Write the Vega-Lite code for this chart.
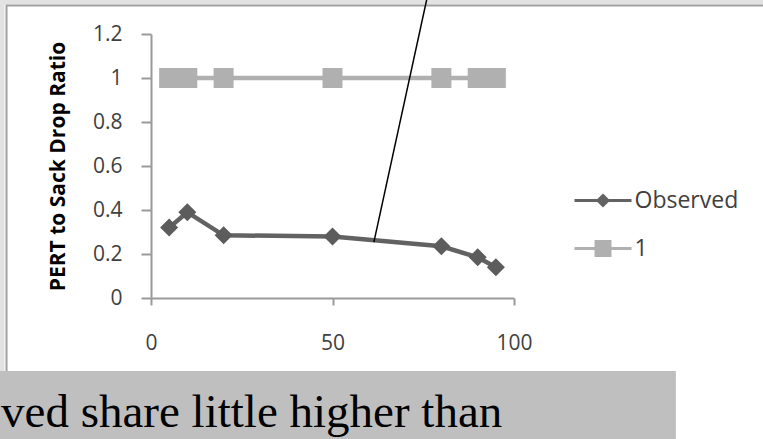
{
  "$schema": "https://vega.github.io/schema/vega-lite/v6.json",
  "width": 363,
  "height": 264,
  "autosize": {"type": "none"},
  "padding": {"left": 151, "top": 34, "right": 249, "bottom": 141},
  "background": "white",
  "config": {
    "view": {"stroke": null},
    "axis": {
      "grid": false, "labelFlush": false, "labelOverlap": false,
      "domainColor": "#9a9a9a", "domainWidth": 2, "tickColor": "#9a9a9a", "tickWidth": 2,
      "labelFont": "Open Sans", "labelFontSize": 21, "labelColor": "#404040",
      "titleFont": "Open Sans", "titleFontWeight": "bold", "titleFontSize": 21, "titleColor": "black"
    }
  },
  "datasets": {
    "series": [
      {"x": 5, "y": 0.32, "series": "Observed"},
      {"x": 10, "y": 0.39, "series": "Observed"},
      {"x": 20, "y": 0.285, "series": "Observed"},
      {"x": 50, "y": 0.28, "series": "Observed"},
      {"x": 80, "y": 0.235, "series": "Observed"},
      {"x": 90, "y": 0.185, "series": "Observed"},
      {"x": 95, "y": 0.14, "series": "Observed"},
      {"x": 5, "y": 1, "series": "1"},
      {"x": 10, "y": 1, "series": "1"},
      {"x": 20, "y": 1, "series": "1"},
      {"x": 50, "y": 1, "series": "1"},
      {"x": 80, "y": 1, "series": "1"},
      {"x": 90, "y": 1, "series": "1"},
      {"x": 95, "y": 1, "series": "1"}
    ],
    "outer": [{"x": -41.6, "x2": 250, "y": 1.3545, "y2": -1}],
    "frame": [{"x": -39.8, "x2": 250, "y": 1.33, "y2": -1}],
    "caption": [{"x": -42, "x2": 144.6, "y": -0.332, "y2": -1, "tx": -41.3, "ty": -0.586, "text": "ved share little higher than"}],
    "callout": [{"x": 76.0, "y": 1.36, "x2": 61.4, "y2": 0.254}]
  },
  "layer": [
    {
      "data": {"name": "outer"},
      "mark": {"type": "rect", "fill": null, "stroke": "#e2e2e2", "strokeWidth": 9, "clip": false},
      "encoding": {
        "x": {
          "field": "x", "type": "quantitative", "scale": {"domain": [0, 100], "nice": false},
          "axis": {"title": null, "values": [0, 50, 100], "tickSize": 7, "labelPadding": 27}
        },
        "x2": {"field": "x2"},
        "y": {
          "field": "y", "type": "quantitative", "scale": {"domain": [0, 1.2], "nice": false},
          "axis": {"title": "PERT to Sack Drop Ratio", "values": [0, 0.2, 0.4, 0.6, 0.8, 1, 1.2], "format": "~g", "tickSize": 10, "labelPadding": 19, "titlePadding": 24}
        },
        "y2": {"field": "y2"}
      }
    },
    {
      "data": {"name": "frame"},
      "mark": {"type": "rect", "fill": null, "stroke": "#a0a0a0", "strokeWidth": 2, "clip": false},
      "encoding": {
        "x": {"field": "x", "type": "quantitative"},
        "x2": {"field": "x2"},
        "y": {"field": "y", "type": "quantitative"},
        "y2": {"field": "y2"}
      }
    },
    {
      "data": {"name": "caption"},
      "mark": {"type": "rect", "fill": "#bfbfbf", "clip": false},
      "encoding": {
        "x": {"field": "x", "type": "quantitative"},
        "x2": {"field": "x2"},
        "y": {"field": "y", "type": "quantitative"},
        "y2": {"field": "y2"}
      }
    },
    {
      "data": {"name": "caption"},
      "mark": {"type": "text", "font": "Liberation Serif", "fontSize": 47, "color": "black", "align": "left", "baseline": "alphabetic", "clip": false},
      "encoding": {
        "x": {"field": "tx", "type": "quantitative"},
        "y": {"field": "ty", "type": "quantitative"},
        "text": {"field": "text"}
      }
    },
    {
      "data": {"name": "series"},
      "mark": {"type": "line", "strokeWidth": 4.5, "clip": false},
      "encoding": {
        "x": {"field": "x", "type": "quantitative"},
        "y": {"field": "y", "type": "quantitative"},
        "color": {
          "field": "series", "type": "nominal", "sort": null,
          "scale": {"domain": ["Observed", "1"], "range": ["#626262", "#b0b0b0"]},
          "legend": {
            "orient": "none", "legendX": 422, "legendY": 155, "title": null,
            "symbolSize": 400, "symbolOffset": 18.5, "symbolStrokeWidth": 3,
            "labelOffset": 20, "labelFont": "Open Sans", "labelFontSize": 23, "labelColor": "#404040",
            "rowPadding": 22, "labelLimit": 300,
            "encode": {
              "symbols": {
                "update": {
                  "shape": {"signal": "datum.value === 'Observed' ? 'M-2.85,0H2.85M0,-0.5L0.5,0L0,0.5L-0.5,0Z' : 'M-2.85,0H2.85M-0.7,-0.7H0.7V0.7H-0.7Z'"},
                  "fill": {"signal": "datum.value === 'Observed' ? '#626262' : '#b0b0b0'"},
                  "stroke": {"signal": "datum.value === 'Observed' ? '#626262' : '#b0b0b0'"},
                  "strokeWidth": {"value": 3},
                  "opacity": {"value": 1}
                }
              }
            }
          }
        }
      }
    },
    {
      "data": {"name": "series"},
      "transform": [{"filter": "datum.series === '1'"}],
      "mark": {"type": "point", "shape": "square", "filled": true, "size": 400, "color": "#b0b0b0", "opacity": 1, "clip": false},
      "encoding": {
        "x": {"field": "x", "type": "quantitative"},
        "y": {"field": "y", "type": "quantitative"}
      }
    },
    {
      "data": {"name": "series"},
      "transform": [{"filter": "datum.series === 'Observed'"}],
      "mark": {"type": "point", "shape": "diamond", "filled": true, "size": 324, "color": "#5c5c5c", "opacity": 1, "clip": false},
      "encoding": {
        "x": {"field": "x", "type": "quantitative"},
        "y": {"field": "y", "type": "quantitative"}
      }
    },
    {
      "data": {"name": "callout"},
      "mark": {"type": "rule", "color": "black", "strokeWidth": 1.5, "clip": false},
      "encoding": {
        "x": {"field": "x", "type": "quantitative"},
        "y": {"field": "y", "type": "quantitative"},
        "x2": {"field": "x2"},
        "y2": {"field": "y2"}
      }
    }
  ]
}
